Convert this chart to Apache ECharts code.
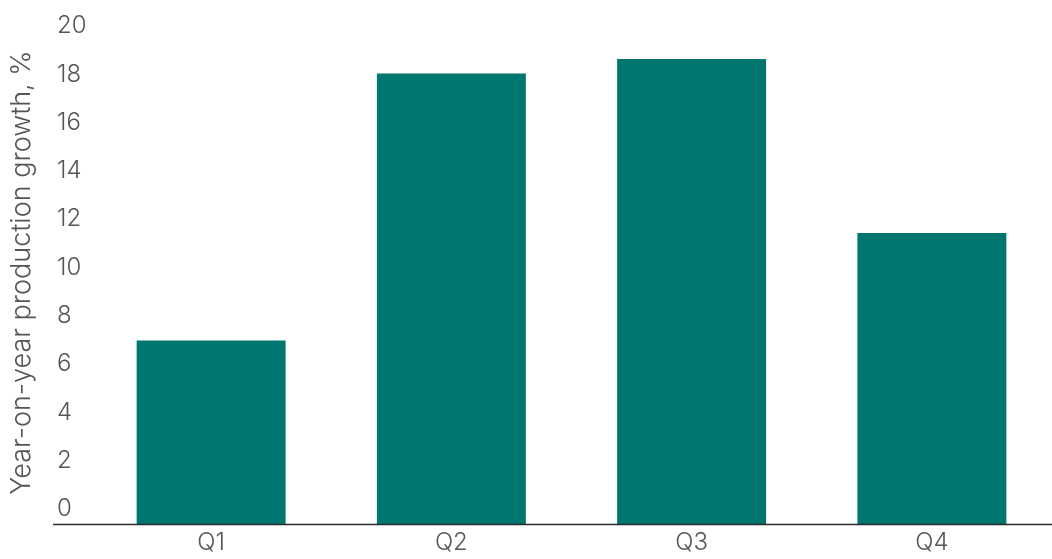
<!DOCTYPE html>
<html>
<head>
<meta charset="utf-8">
<script src="https://cdn.jsdelivr.net/npm/echarts@6/dist/echarts.min.js"></script>
<style>
  html, body { margin: 0; padding: 0; background: #fff; }
  #chart { width: 1052px; height: 559px; }
</style>
</head>
<body>
<div id="chart"></div>
<script>
// quarters and growth values
var quarters = ['Q1', 'Q2', 'Q3', 'Q4'];
var growth = [7.6, 18.65, 19.25, 12.05];
var yTicks = { min: 0, max: 20, step: 2 };

var chart = echarts.init(document.getElementById('chart'));
var font = 'Inter, "Noto Sans", sans-serif';

chart.setOption({
  animation: false,
  grid: { left: 87, right: -5, top: 41, bottom: 35 },
  xAxis: {
    type: 'category',
    data: quarters,
    axisLine: { show: false },
    axisTick: { show: false },
    axisLabel: { color: '#555', fontSize: 24, fontWeight: 300, fontFamily: font, margin: 7 }
  },
  yAxis: {
    type: 'value',
    min: yTicks.min,
    max: yTicks.max,
    interval: yTicks.step,
    splitLine: { show: false },
    axisLine: { show: false },
    axisTick: { show: false },
    axisLabel: {
      color: '#555', fontSize: 24, fontWeight: 300, fontFamily: font,
      align: 'left', margin: 34, verticalAlign: 'bottom', padding: [0, 0, 3, 0]
    },
    name: 'Year-on-year production growth, %',
    nameLocation: 'middle',
    nameGap: 56,
    nameTextStyle: { color: '#555', fontSize: 27, fontWeight: 300, fontFamily: font, padding: [0, 0, 0, 20] }
  },
  series: [{
    type: 'bar',
    data: growth,
    barCategoryGap: '38%',
    itemStyle: { color: '#007670' }
  }]
});

// baseline: runs from left of the labels to the right edge
var baseY = Math.round(chart.convertToPixel({ yAxisIndex: 0 }, 0)) + 0.5;
chart.setOption({
  graphic: [{
    type: 'line',
    shape: { x1: 53, y1: baseY, x2: 1052, y2: baseY },
    style: { stroke: '#2b2b2b', lineWidth: 1.5 },
    z: 10
  }]
});
</script>
</body>
</html>
